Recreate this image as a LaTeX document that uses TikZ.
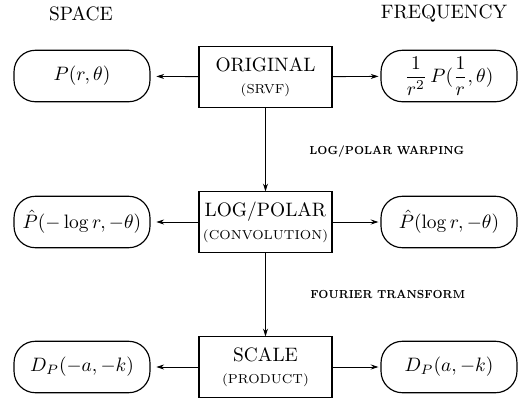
\documentclass[tikz,border=0pt]{standalone}
\usepackage{graphicx}
\usetikzlibrary{arrows.meta}
\newcommand{\subsz}{\fontsize{6.7}{8}\selectfont}
\begin{document}
\begin{tikzpicture}[x=0.515pt,y=-0.515pt,
  rbox/.style={draw,line width=0.6pt,rounded corners=11pt,minimum width=70pt,minimum height=26.5pt,inner sep=0.5pt},
  sbox/.style={draw,line width=0.6pt,minimum width=68.5pt,minimum height=31pt,align=center,inner sep=1pt},
  conn/.style={line width=0.45pt,-{Stealth[length=4pt,width=2.6pt]}},
  lbl/.style={font=\fontsize{6}{7}\selectfont\bfseries,anchor=west,inner sep=0pt},
  head/.style={font=\normalsize,inner sep=0pt}]
\useasboundingbox (0,0) rectangle (519,403);
\node[head] (hs) at (81,14) {SPACE};
\node[head] (hf) at (444,14) {FREQUENCY};
% row 1
\node[sbox] (orig) at (265.5,77) {ORIGINAL\\[-1pt]{\subsz (SRVF)}};
\node[rbox] (s1) at (82,76) {$P(r,\theta)$};
\node[rbox] (f1) at (449,76) {$\displaystyle \frac{1}{r^2}\,P(\frac{1}{r},\theta)$};
% row 2
\node[sbox] (logp) at (265.5,222) {LOG/POLAR\\[0pt]{\subsz (CONVOLUTION)}};
\node[rbox] (s2) at (82,222) {$\hat{P}(-\log r,-\theta)$};
\node[rbox] (f2) at (449,222) {$\hat{P}(\log r,-\theta)$};
% row 3
\node[sbox] (scale) at (265.5,367) {SCALE\\[-1pt]{\subsz (PRODUCT)}};
\node[rbox] (s3) at (82,367) {$D_P(-a,-k)$};
\node[rbox] (f3) at (449,367) {$D_P(a,-k)$};
% labels
\node[lbl] (w) at (309,152) {\scalebox{0.84}[1]{LOG/POLAR WARPING}};
\node[lbl] (ft) at (310,294) {\scalebox{0.84}[1]{FOURIER TRANSFORM}};
% connectors
\draw[conn,shorten >=3pt] (orig) -- (s1);
\draw[conn,shorten >=1pt] (orig) -- (f1);
\draw[conn,shorten >=3pt] (logp) -- (s2);
\draw[conn,shorten >=1pt] (logp) -- (f2);
\draw[conn,shorten >=3pt] (scale) -- (s3);
\draw[conn,shorten >=1pt] (scale) -- (f3);
\draw[conn] (orig) -- (logp);
\draw[conn] (logp) -- (scale);
\end{tikzpicture}
\end{document}
